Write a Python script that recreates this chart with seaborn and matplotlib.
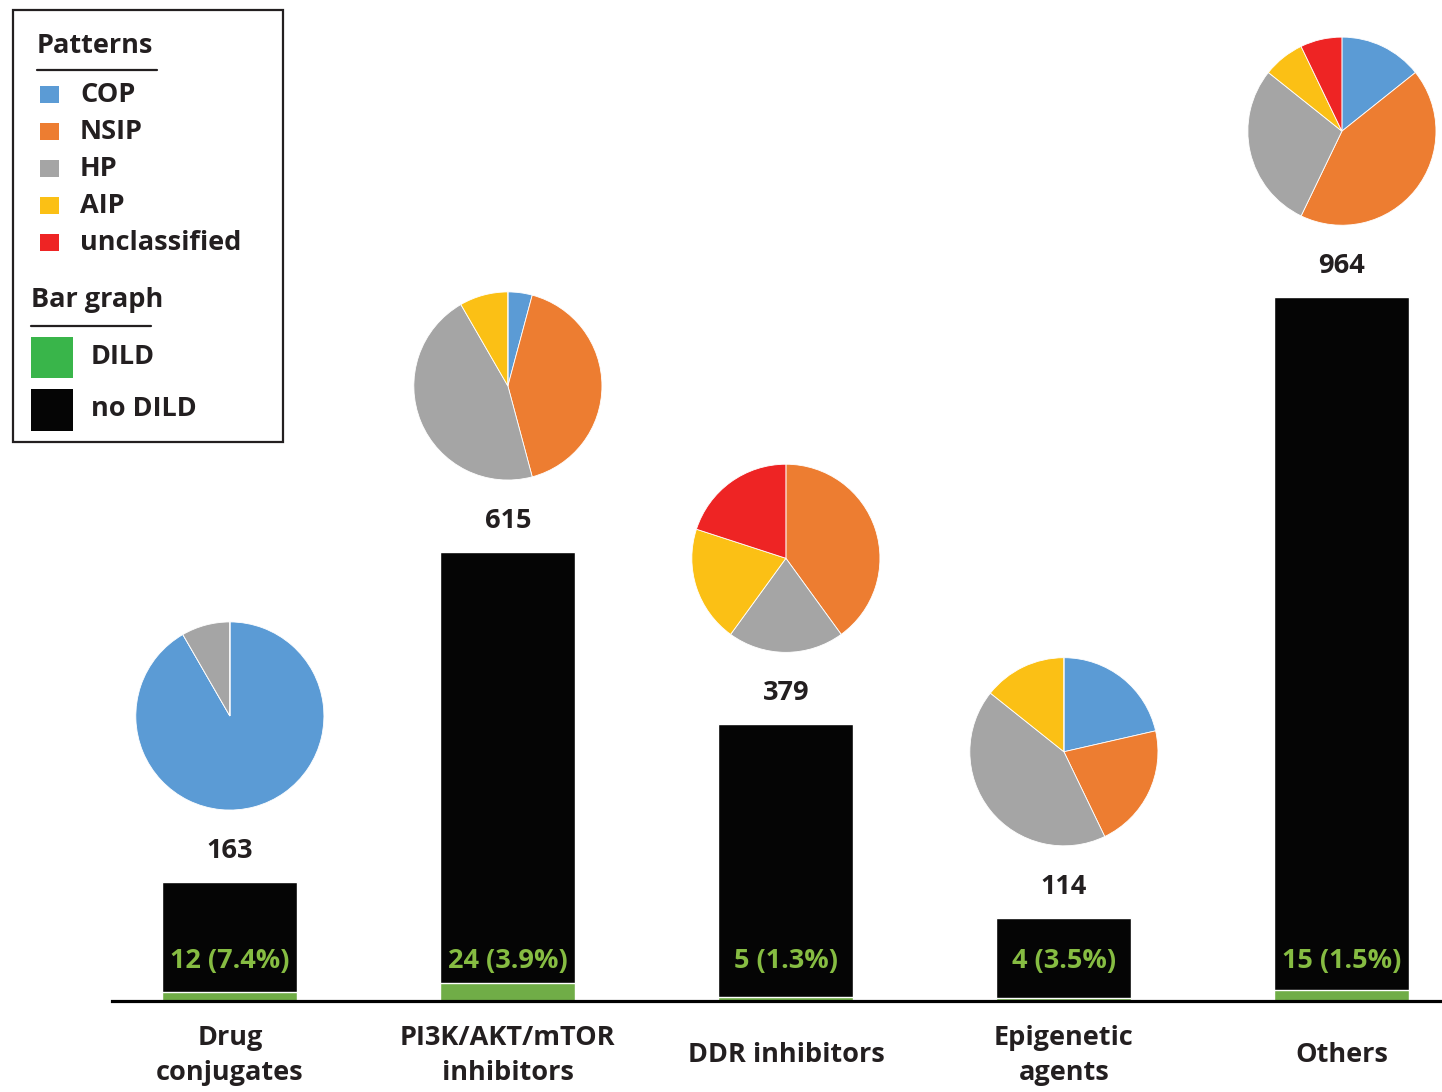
import matplotlib
matplotlib.use("Agg")
import matplotlib.pyplot as plt
from matplotlib.patches import Rectangle
import seaborn as sns
import pandas as pd

# data
categories = ["Drug\nconjugates", "PI3K/AKT/mTOR\ninhibitors", "DDR inhibitors",
              "Epigenetic\nagents", "Others"]
totals = [163, 615, 379, 114, 964]
dild = [12, 24, 5, 4, 15]
dild_labels = ["12 (7.4%)", "24 (3.9%)", "5 (1.3%)", "4 (3.5%)", "15 (1.5%)"]

patterns = ["COP", "NSIP", "HP", "AIP", "unclassified"]
pattern_counts = [
    [11, 0, 1, 0, 0],
    [1, 10, 11, 2, 0],
    [0, 2, 1, 1, 1],
    [3, 3, 6, 2, 0],
    [2, 6, 4, 1, 1],
]
pattern_colors = ["#5b9bd5", "#ed7d31", "#a5a5a5", "#fbc015", "#ee2424"]

W, H = 1442, 1092
TXT = "#231f20"
FS = 19.5
WT = "bold"

sns.set_theme(style="white")
plt.rcParams["font.family"] = ["Open Sans", "DejaVu Sans"]

df = pd.DataFrame({"cat": categories, "total": totals, "dild": dild})

fig = plt.figure(figsize=(W / 100, H / 100), dpi=100)
ax = fig.add_axes([112 / W, (H - 1001) / H, (W - 112) / W, 1001 / H])

sns.barplot(data=df, x="cat", y="total", color="#050505", saturation=1,
            width=0.486, ax=ax)
sns.barplot(data=df, x="cat", y="dild", color="#70ad47", saturation=1,
            width=0.486, ax=ax)

ax.set_xlim(-0.424, 4.36)
ax.set_ylim(0, 1371)
ax.set_xlabel("")
ax.set_ylabel("")
ax.set_yticks([])
for s in ["left", "right", "top"]:
    ax.spines[s].set_visible(False)
ax.spines["bottom"].set_linewidth(2.3)
ax.spines["bottom"].set_color("black")
ax.tick_params(axis="x", length=0, pad=39)
ax.set_xticks(range(len(categories)))
ax.set_xticklabels(categories, fontsize=FS, fontweight=WT, color=TXT,
                   linespacing=1.45)
for lab in ax.get_xticklabels():
    lab.set_va("center")

fig.canvas.draw()
for i, (t, lab) in enumerate(zip(totals, dild_labels)):
    cx, top = ax.transData.transform((i, t))
    ax.annotate(str(t), (i, t), xytext=(0, 31 * 0.72), textcoords="offset points",
                ha="center", va="center", fontsize=FS, fontweight=WT, color=TXT)
    ax.text(i, (1001 - 961) / 1001 * 1371, lab, ha="center", va="center",
            fontsize=FS, fontweight=WT, color="#86bc42")
    # place pie above the bar
    r = 95
    cy = top + 166
    pax = fig.add_axes([(cx - r) / W, (cy - r) / H, 2 * r / W, 2 * r / H])
    pax.pie(pattern_counts[i], colors=pattern_colors, startangle=90,
            counterclock=False, wedgeprops=dict(edgecolor="white", linewidth=0.6))
    pax.set_xlim(-1.01, 1.01)
    pax.set_ylim(-1.01, 1.01)
    pax.set_aspect("equal")

# legend box drawn in pixel coordinates
lax = fig.add_axes([0, 0, 1, 1])
lax.set_xlim(0, W)
lax.set_ylim(H, 0)
lax.axis("off")
lax.add_patch(Rectangle((13, 10), 270, 432, fill=False, edgecolor="#231f20", lw=1.6))
lax.text(37, 46, "Patterns", fontsize=FS, fontweight=WT, color=TXT, va="center")
lax.plot([37, 157], [69.5, 69.5], color=TXT, lw=1.6)
ys = [95, 132, 169, 206, 243]
for y, name, col in zip(ys, patterns, pattern_colors):
    lax.add_patch(Rectangle((40, y - 9), 19, 17, color=col, lw=0))
    lax.text(80, y, name, fontsize=FS, fontweight=WT, color=TXT, va="center")
lax.text(31, 300, "Bar graph", fontsize=FS, fontweight=WT, color=TXT, va="center")
lax.plot([31, 151], [325.5, 325.5], color=TXT, lw=1.6)
lax.add_patch(Rectangle((31, 337), 42, 41, color="#39b54a", lw=0))
lax.text(91, 357, "DILD", fontsize=FS, fontweight=WT, color=TXT, va="center")
lax.add_patch(Rectangle((31, 389), 42, 42, color="#050505", lw=0))
lax.text(91, 409, "no DILD", fontsize=FS, fontweight=WT, color=TXT, va="center")

fig.savefig("out.png", dpi=100)
